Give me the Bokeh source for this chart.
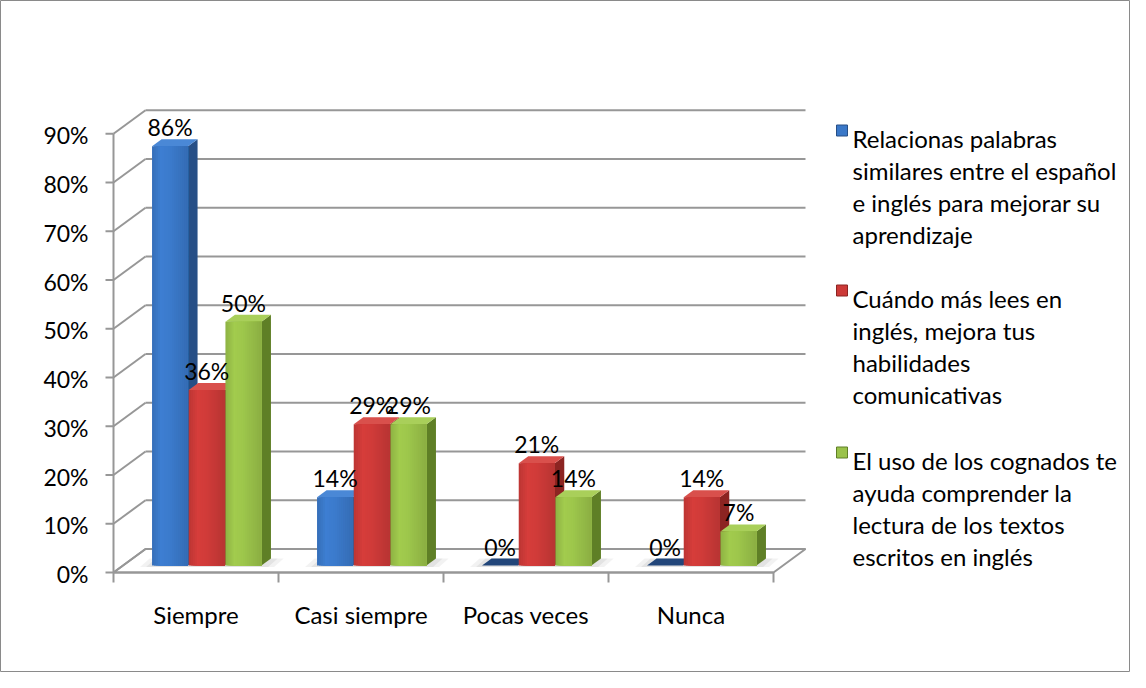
import numpy as np
from bokeh.plotting import figure
from bokeh.models import Range1d
from bokeh.embed import file_html
from bokeh.resources import INLINE
from bokeh.core.properties import value

# ---------------- data ----------------
categories = ["Siempre", "Casi siempre", "Pocas veces", "Nunca"]
legend_lines = [
    ["Relacionas palabras", "similares entre el español", "e inglés para mejorar su", "aprendizaje"],
    ["Cuándo más lees en", "inglés, mejora tus", "habilidades", "comunicativas"],
    ["El uso de los cognados te", "ayuda comprender la", "lectura de los textos", "escritos en inglés"],
]
relacionas_palabras = [86, 14, 0, 0]
cuando_mas_lees = [36, 29, 21, 14]
uso_cognados = [50, 29, 14, 7]
y_ticks = [0, 10, 20, 30, 40, 50, 60, 70, 80, 90]
y_tick_labels = ["0%", "10%", "20%", "30%", "40%", "50%", "60%", "70%", "80%", "90%"]

series_values = [relacionas_palabras, cuando_mas_lees, uso_cognados]

# ---------------- style ----------------
front_colors = ["#3A78C8", "#CC3A38", "#9AC24A"]
side_colors = ["#274F86", "#8C2422", "#5F7F26"]
top_colors = ["#4A88D6", "#D9504C", "#A9CF5A"]
zero_color = "#22467A"
grid_color = "#979797"
FONT = value("Lato")
FS = "24px"
FS_NUM = "23px"
# horizontal shading of the bar fronts (control points across the face)
shade_ctrl_pos = [0.0, 0.25, 0.5, 1.0]
shade_ctrl_val = [0.92, 1.05, 1.02, 0.90]
NSTRIP = 18


def shade(hex_color, f):
    r, g, b = (int(hex_color[i:i + 2], 16) for i in (1, 3, 5))
    r, g, b = (max(0, min(255, int(round(c * f)))) for c in (r, g, b))
    return f"#{r:02x}{g:02x}{b:02x}"


# ---------------- layout (reference pixels) ----------------
W, H = 1130, 672
X0, Y0, CW, YS = 113.0, 572.0, 165.0, 4.875
DXP, DYP = 32.0, 23.5


def dx(px):
    return (px - X0) / CW


def dy(py):
    return (Y0 - py) / YS


p = figure(width=W, height=H, output_backend="svg", toolbar_location=None,
           x_range=Range1d(dx(0), dx(W)), y_range=Range1d(dy(H), dy(0)),
           min_border=0, x_axis_location=None, y_axis_location=None, tools="")
p.grid.visible = False
p.background_fill_color = "white"
p.border_fill_color = "white"
p.outline_line_color = "#8A8A8A"
p.outline_line_width = 1

ncat = len(categories)
DX = DXP / CW
DY = DYP / YS

# floor
p.patch([0, ncat, ncat + DX, DX], [0, 0, DY, DY], fill_color="white",
        line_color=grid_color, line_width=2)

# back wall gridlines and side-wall diagonals
gy = [t + DY for t in y_ticks]
p.segment(x0=[DX] * len(y_ticks), y0=gy, x1=[ncat + DX] * len(y_ticks), y1=gy,
          line_color=grid_color, line_width=2)
p.segment(x0=[0] * len(y_ticks), y0=y_ticks, x1=[DX] * len(y_ticks), y1=gy,
          line_color=grid_color, line_width=2)

# front y axis
p.segment(x0=[0], y0=[y_ticks[0]], x1=[0], y1=[y_ticks[-1]], line_color=grid_color, line_width=2)
p.segment(x0=[dx(X0 - 8)] * len(y_ticks), y0=y_ticks, x1=[0] * len(y_ticks), y1=y_ticks,
          line_color=grid_color, line_width=2)
p.text(x=[dx(88)] * len(y_ticks), y=[t - 1.5 / YS for t in y_ticks], text=y_tick_labels,
       text_font=FONT, text_font_size=FS_NUM, text_align="right", text_baseline="middle",
       text_color="black")

# x axis
p.segment(x0=[0], y0=[0], x1=[ncat], y1=[0], line_color=grid_color, line_width=2)
bx = list(range(ncat + 1))
p.segment(x0=bx, y0=[0] * len(bx), x1=bx, y1=[dy(Y0 + 10)] * len(bx),
          line_color=grid_color, line_width=2)
p.text(x=[c + 0.5 for c in range(ncat)], y=[dy(614)] * ncat, text=categories,
       text_font=FONT, text_font_size=FS, text_align="center", text_baseline="alphabetic",
       text_color="black")

# bars
F0 = 7.0 / DYP
FD = 7.0 / DYP
bpx, bpy = F0 * DX, F0 * DY
bdx, bdy = FD * DX, FD * DY
BAR_OFF = 29.0 / CW
BAR_W = 36.0 / CW
BAR_P = 36.7 / CW

# soft floor shadows under each group of bars
for c in range(ncat):
    gl = c + bpx + BAR_OFF
    gr = gl + 3 * BAR_P + bdx
    for grow, a in ((12.0, 0.05), (6.0, 0.06)):
        g = grow / CW
        p.patch([gl - g, gr - bdx + g, gr + g, gl + bdx - g],
                [bpy - 1.5 / YS, bpy - 1.5 / YS, bpy + bdy, bpy + bdy],
                fill_color="black", fill_alpha=a, line_color=None)

strip_factors = np.interp((np.arange(NSTRIP) + 0.5) / NSTRIP, shade_ctrl_pos, shade_ctrl_val)

side_xs, side_ys, side_c = [], [], []
top_xs, top_ys, top_c = [], [], []
fl, fr, fb, ft, fc = [], [], [], [], []
lab_x, lab_y, lab_t = [], [], []
for c in range(ncat):
    for s, vals in enumerate(series_values):
        v = vals[c]
        xl = c + bpx + BAR_OFF + s * BAR_P
        xr = xl + BAR_W
        yb = bpy
        yt = yb + v
        if v > 0:
            side_xs.append([xr, xr + bdx, xr + bdx, xr])
            side_ys.append([yb, yb + bdy, yt + bdy, yt])
            side_c.append(side_colors[s])
            # overlapping strips (each runs to the bar's right edge) -> no seams
            for k, f in enumerate(strip_factors):
                fl.append(xl + BAR_W * k / NSTRIP)
                fr.append(xr)
                fb.append(yb)
                ft.append(yt)
                fc.append(shade(front_colors[s], f))
        top_xs.append([xl, xr, xr + bdx, xl + bdx])
        top_ys.append([yt, yt, yt + bdy, yt + bdy])
        top_c.append(top_colors[s] if v > 0 else zero_color)
        lab_x.append((xl + xr) / 2)
        lab_y.append(yt + 19.0 / YS)
        lab_t.append(f"{v}%")

p.patches(xs=side_xs, ys=side_ys, fill_color=side_c, line_color=None)
p.patches(xs=top_xs, ys=top_ys, fill_color=top_c, line_color=None)
p.quad(left=fl, right=fr, bottom=fb, top=ft, fill_color=fc, line_color=None)

p.text(x=lab_x, y=lab_y, text=lab_t, text_font=FONT, text_font_size=FS_NUM,
       text_align="center", text_baseline="alphabetic", text_color="black")

# legend
entry_base = [138, 298, 460]
pitch = 32
for s, lines in enumerate(legend_lines):
    b0 = entry_base[s]
    p.scatter(x=[dx(841.5)], y=[dy(b0 - 8)], marker="square", size=11,
              fill_color=front_colors[s], line_color=side_colors[s], line_width=1)
    p.text(x=[dx(852)] * len(lines), y=[dy(b0 + i * pitch) for i in range(len(lines))],
           text=lines, text_font=FONT, text_font_size=FS, text_align="left",
           text_baseline="alphabetic", text_color="black")

open("out.html", "w").write(file_html(p, INLINE))
